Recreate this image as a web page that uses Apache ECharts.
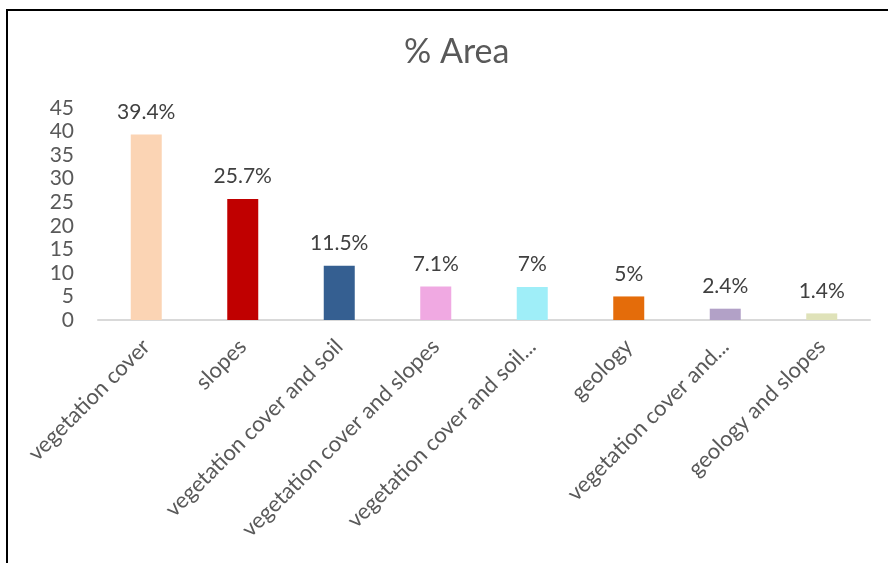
<!DOCTYPE html>
<html><head><meta charset="utf-8">
<script src="https://cdn.jsdelivr.net/npm/echarts@6/dist/echarts.min.js"></script>
<style>html,body{margin:0;padding:0;background:#fff}#c{width:888px;height:563px}</style>
</head><body><div id="c"></div>
<script>
const categories = ["vegetation cover","slopes","vegetation cover and soil","vegetation cover and slopes","vegetation cover and soil...","geology","vegetation cover and...","geology and slopes"];
const values = [39.4, 25.7, 11.5, 7.1, 7, 5, 2.4, 1.4];
const barColors = ["#FBD4B4","#C00000","#355F91","#F0A9E2","#9FEEF8","#E46C0A","#B2A1C7","#DFE2B9"];
const yTicks = [0,5,10,15,20,25,30,35,40,45];

const chart = echarts.init(document.getElementById('c'), null, {renderer:'canvas'});
const FONT = 'Lato';
chart.setOption({
  animation:false,
  backgroundColor:'#fff',
  title:{text:'% Area', left:399, top:30, textStyle:{fontFamily:FONT, fontSize:34, fontWeight:'normal', color:'#595959'}},
  grid:{left:98, right:18, top:108, bottom:243, containLabel:false},
  graphic:[{type:'rect', shape:{x:7, y:10, width:900, height:600}, style:{fill:'none', stroke:'#000', lineWidth:2}, z:100}],
  xAxis:{type:'category', data:categories,
    axisLine:{lineStyle:{color:'#D9D9D9', width:2}}, axisTick:{show:false},
    axisLabel:{rotate:45, interval:0, fontFamily:FONT, fontSize:22, color:'#595959', margin:23}},
  yAxis:{type:'value', min:yTicks[0], max:yTicks[yTicks.length-1], interval:5,
    axisLine:{show:false}, axisTick:{show:false}, splitLine:{show:false},
    axisLabel:{fontFamily:FONT, fontSize:21, color:'#595959', margin:24}},
  series:[{type:'bar', barWidth:31,
    data: values.map((v,i)=>({value:v, itemStyle:{color:barColors[i]}})),
    label:{show:true, position:'top', distance:12, formatter:p=>p.value+'%', fontFamily:FONT, fontSize:21, color:'#404040'}}]
});
</script></body></html>
